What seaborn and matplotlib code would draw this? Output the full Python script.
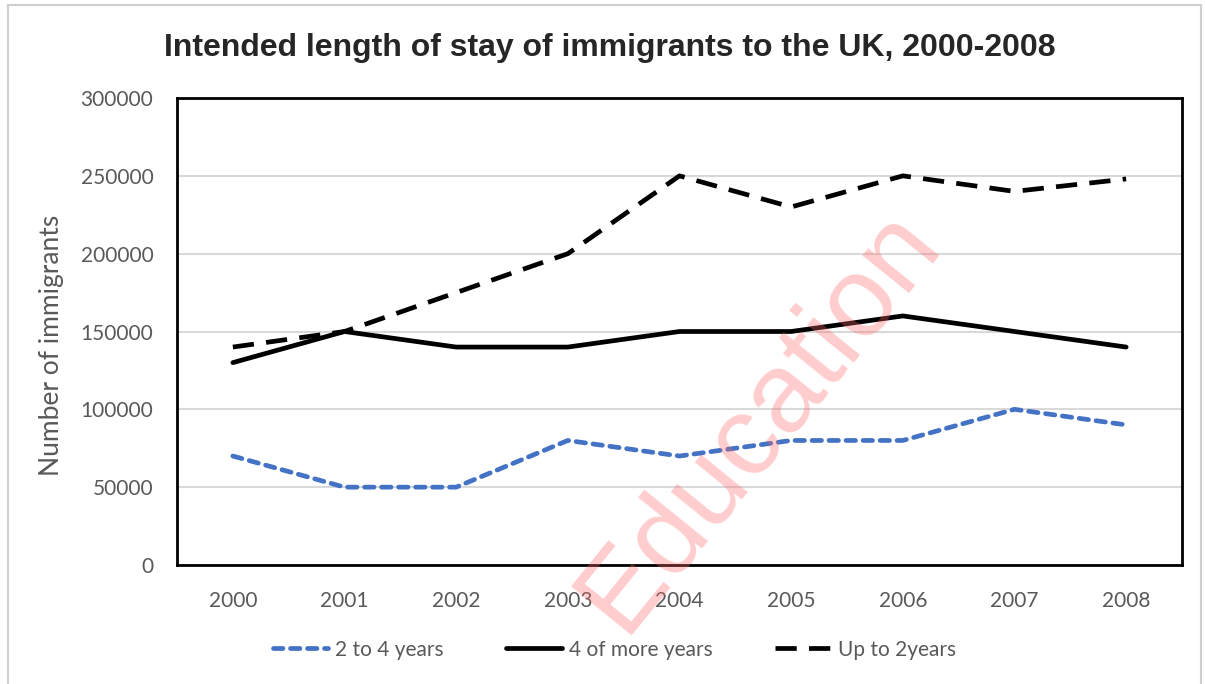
import pandas as pd
import numpy as np
import seaborn as sns
import matplotlib.pyplot as plt
from matplotlib.patches import Rectangle

years = [2000, 2001, 2002, 2003, 2004, 2005, 2006, 2007, 2008]
two_to_four = [70000, 50000, 50000, 80000, 70000, 80000, 80000, 100000, 90000]
four_or_more = [130000, 150000, 140000, 140000, 150000, 150000, 160000, 150000, 140000]
up_to_two = [140000, 150000, 175000, 200000, 250000, 230000, 250000, 240000, 248000]
series_names = ["2 to 4 years", "4 of more years", "Up to 2years"]
y_ticks = [0, 50000, 100000, 150000, 200000, 250000, 300000]

sns.set_style("white")
plt.rcParams['font.family'] = ['Lato', 'DejaVu Sans']

fig = plt.figure(figsize=(12.05, 6.84), dpi=100)
ax = fig.add_axes([0.1469, 0.174, 0.834, 0.6827])

# light outer border like the Excel chart area
fig.patches.append(Rectangle((0.007, -0.01), 0.99, 1.003, transform=fig.transFigure,
                             fill=False, edgecolor="#d0d0d0", lw=1.5))

ax.grid(axis="y", color="#d9d9d9", lw=1.5)
ax.set_axisbelow(True)

sns.lineplot(x=years, y=two_to_four, ax=ax, color="#4472C4", lw=3.4,
             dashes=False, label=series_names[0])
sns.lineplot(x=years, y=four_or_more, ax=ax, color="black", lw=3.4,
             label=series_names[1])
sns.lineplot(x=years, y=up_to_two, ax=ax, color="black", lw=3.4,
             label=series_names[2])
lines = ax.get_lines()
lines[0].set_dashes((2.0, 1.6))
lines[0].set_dash_capstyle("round")
lines[2].set_dashes((4.5, 2.6))
for ln in lines:
    ln.set_solid_joinstyle("round")

ax.set_xlim(1999.5, 2008.5)
ax.set_ylim(0, 300000)
ax.set_xticks(years)
ax.set_xticklabels([str(y) for y in years])
ax.set_yticks(y_ticks)
ax.set_yticklabels([str(v) for v in y_ticks])
ax.tick_params(axis="both", length=0, labelsize=15, colors="#595959")
ax.tick_params(axis="y", pad=17)
ax.tick_params(axis="x", pad=19)
for s in ax.spines.values():
    s.set_visible(True)
    s.set_color("black")
    s.set_linewidth(2)

ax.set_ylabel("Number of immigrants", fontsize=19, color="#595959")
ax.yaxis.set_label_coords(-0.112, 0.47)
ax.set_xlabel("")

leg = ax.legend(loc="upper center", bbox_to_anchor=(0.435, -0.12), ncol=3,
                frameon=False, fontsize=15, handlelength=2.65, columnspacing=3.0,
                handletextpad=0.35)
for t in leg.get_texts():
    t.set_color("#595959")

fig.text(0.506, 0.93, "Intended length of stay of immigrants to the UK, 2000-2008",
         ha="center", va="center", fontsize=23, fontweight="bold",
         family=["Liberation Sans", "DejaVu Sans"])

# watermark
fig.text(0.63, 0.385, "Education", rotation=51, ha="center", va="center",
         fontsize=82, color="#ff6666", alpha=0.33,
         family=["Liberation Sans", "DejaVu Sans"], zorder=10)

fig.savefig("out.png", dpi=100)
